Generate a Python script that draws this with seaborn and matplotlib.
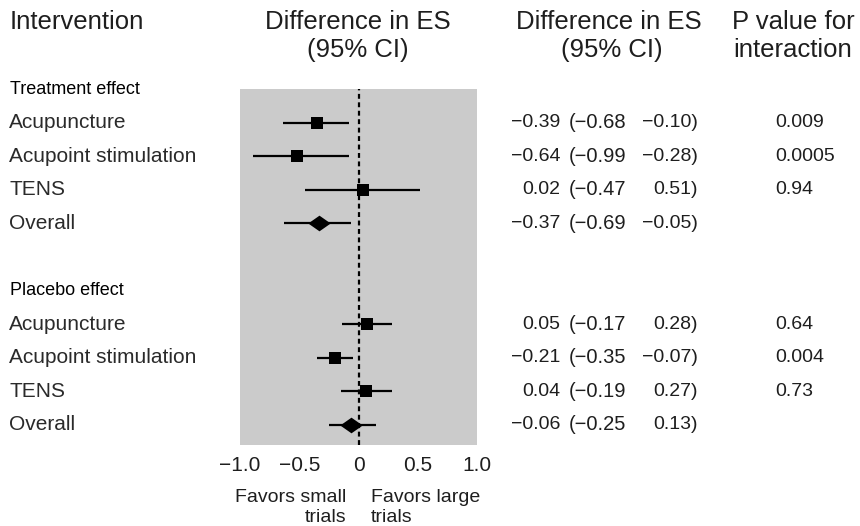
import matplotlib
matplotlib.use("Agg")
import matplotlib.pyplot as plt
import matplotlib.transforms as mtransforms
import seaborn as sns
import pandas as pd

# values
groups = ["Treatment effect", "Placebo effect"]
interventions = ["Acupuncture", "Acupoint stimulation", "TENS", "Overall"]

# plotted marks (as drawn)
treat_est = [-0.35, -0.52, 0.04, -0.33]
treat_lo = [-0.64, -0.89, -0.45, -0.63]
treat_hi = [-0.08, -0.08, 0.52, -0.06]
placebo_est = [0.07, -0.20, 0.06, -0.06]
placebo_lo = [-0.14, -0.35, -0.15, -0.25]
placebo_hi = [0.28, -0.05, 0.28, 0.15]

# printed table
treat_txt = [("−0.39", "(−0.68", "−0.10)"), ("−0.64", "(−0.99", "−0.28)"),
             ("0.02", "(−0.47", "0.51)"), ("−0.37", "(−0.69", "−0.05)")]
placebo_txt = [("0.05", "(−0.17", "0.28)"), ("−0.21", "(−0.35", "−0.07)"),
               ("0.04", "(−0.19", "0.27)"), ("−0.06", "(−0.25", "0.13)")]
treat_p = ["0.009", "0.0005", "0.94", ""]
placebo_p = ["0.64", "0.004", "0.73", ""]

xticks = [-1.0, -0.5, 0, 0.5, 1.0]
xticklabels = ["−1.0", "−0.5", "0", "0.5", "1.0"]

sns.set_theme(style="white")
plt.rcParams["font.family"] = ["Liberation Sans", "DejaVu Sans"]
txt_col = "#1e1e1e"

W, H = 860, 526
fig = plt.figure(figsize=(W / 100, H / 100), dpi=100)
ax = fig.add_axes([240 / W, 1 - 445 / H, 237 / W, 356 / H])
ax.set_facecolor("#cbcbcb")

# build long table with row positions
rows = []
pos = 0
header_rows = []
for g, est, lo, hi, tx, pv in [
    (groups[0], treat_est, treat_lo, treat_hi, treat_txt, treat_p),
    (groups[1], placebo_est, placebo_lo, placebo_hi, placebo_txt, placebo_p),
]:
    header_rows.append((g, pos))
    pos += 1
    for name, e, l, h, t, p in zip(interventions, est, lo, hi, tx, pv):
        rows.append(dict(group=g, name=name, est=e, lo=l, hi=h, txt=t, p=p,
                         row=pos, kind="Overall" if name == "Overall" else "Single"))
        pos += 1
    pos += 1
df = pd.DataFrame(rows)

ax.hlines(df["row"], df["lo"], df["hi"], color="black", lw=1.6, zorder=2)
sns.scatterplot(data=df[df.kind == "Single"], x="est", y="row", marker="s",
                s=78, color="black", edgecolor="black", linewidth=0, ax=ax, zorder=3)
diamond = [(-1, 0), (0, 0.7), (1, 0), (0, -0.7), (-1, 0)]
sns.scatterplot(data=df[df.kind == "Overall"], x="est", y="row", marker=diamond,
                s=260, color="black", edgecolor="black", linewidth=0, ax=ax, zorder=3)

ax.axvline(0, color="black", lw=1.6, ls=(0, (2.2, 1.6)), zorder=1)
ax.set_xlim(-1.0, 1.0)
ax.set_ylim(10.6, 0)
ax.set_xticks(xticks)
ax.set_xticklabels(xticklabels, fontsize=15, color=txt_col)
ax.tick_params(axis="x", length=0, pad=8)
ax.set_yticks([])
ax.set_xlabel("")
ax.set_ylabel("")
for s in ax.spines.values():
    s.set_visible(False)

tr = mtransforms.blended_transform_factory(fig.transFigure, ax.transData)

for g, r in header_rows:
    fig.text(10 / W, r, g, transform=tr, fontsize=13, color="black",
             va="center", ha="left")
for _, r in df.iterrows():
    y = r["row"]
    fig.text(9 / W, y, r["name"], transform=tr, fontsize=15, color="#2a2a2a",
             va="center", ha="left")
    e, l, h = r["txt"]
    fig.text(560 / W, y, e, transform=tr, fontsize=14, color=txt_col,
             va="center", ha="right")
    fig.text(626 / W, y, l, transform=tr, fontsize=14.5, color=txt_col,
             va="center", ha="right")
    fig.text(698 / W, y, h, transform=tr, fontsize=14, color=txt_col,
             va="center", ha="right")
    if r["p"]:
        fig.text(775 / W, y, r["p"], transform=tr, fontsize=14, color=txt_col,
                 va="center", ha="left")

# column headers
hdr = dict(fontsize=18.5, color=txt_col, va="center")
fig.text(10 / W, 1 - 22 / H, "Intervention", ha="left", **hdr)
fig.text(358 / W, 1 - 22 / H, "Difference in ES", ha="center", **hdr)
fig.text(358 / W, 1 - 50 / H, "(95% CI)", ha="center", **hdr)
fig.text(609 / W, 1 - 22 / H, "Difference in ES", ha="center", **hdr)
fig.text(612 / W, 1 - 50 / H, "(95% CI)", ha="center", **hdr)
fig.text(793 / W, 1 - 22 / H, "P value for", ha="center", **hdr)
fig.text(793 / W, 1 - 50 / H, "interaction", ha="center", **hdr)

# favours labels
fav = dict(fontsize=14, color=txt_col, va="center")
fig.text(346 / W, 1 - 497 / H, "Favors small", ha="right", **fav)
fig.text(346 / W, 1 - 518 / H, "trials", ha="right", **fav)
fig.text(371 / W, 1 - 497 / H, "Favors large", ha="left", **fav)
fig.text(371 / W, 1 - 518 / H, "trials", ha="left", **fav)

fig.savefig("out.png", dpi=100)
plt.close(fig)
